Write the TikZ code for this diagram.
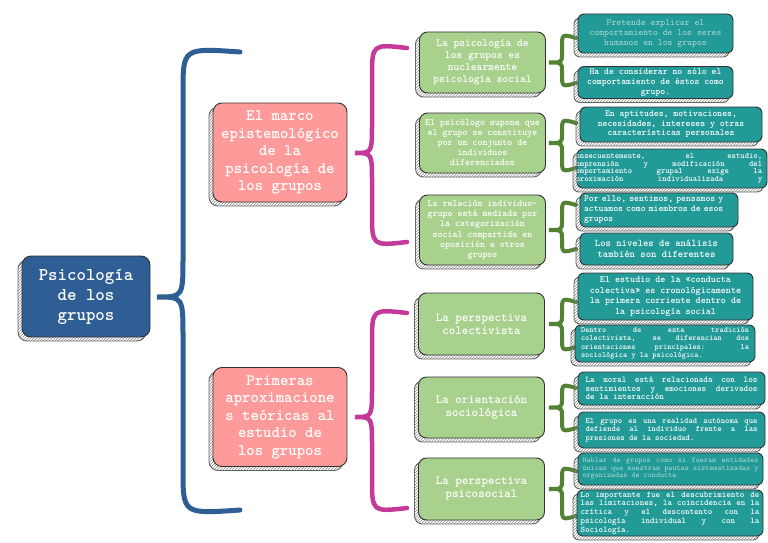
\documentclass[tikz,border=0pt]{standalone}
\usepackage{xcolor}
\usepackage{tikz}
\usetikzlibrary{calc}
\usetikzlibrary{shadows, patterns}
\definecolor{azul}{HTML}{2E5E94}
\definecolor{rosa}{HTML}{FF9A9A}
\definecolor{verde}{HTML}{A9D18E}
\definecolor{turquesa}{HTML}{229A97}
\definecolor{rosaosc}{HTML}{C43A9A}
\definecolor{verdeosc}{HTML}{548235}
\definecolor{gristexto}{HTML}{A8D8D4}
\newcommand{\letra}[2]{\fontsize{#1}{#2}\selectfont\ttfamily\bfseries}
\newcommand{\espacios}{\spaceskip=.525em plus 3em\relax}
\newcommand{\llave}[8]{\draw[#1] (#7,#5) .. controls (#4,{#5-4}) .. (#4,{#5+#8}) -- (#4,{#3-#8}) .. controls (#4,#3) .. (#2,#3) .. controls (#4,#3) .. (#4,{#3+#8}) -- (#4,{#6-#8}) .. controls (#4,{#6+4}) .. (#7,#6);}
\tikzstyle{sombra} = [general shadow={shadow xshift=-4pt, shadow yshift=-4pt, draw=black!60, pattern=north east lines, pattern color=black!45}]
\tikzstyle{caja} = [draw=black!80, line width=0.9pt, text=white, align=center, inner sep=2pt, sombra]
\tikzstyle{raiz} = [caja, fill=azul, rounded corners=9pt, minimum width=128pt, minimum height=81pt]
\tikzstyle{tema} = [caja, fill=rosa, rounded corners=9pt, minimum width=134pt, minimum height=99pt]
\tikzstyle{subtema} = [caja, fill=verde, rounded corners=8pt, minimum width=126pt]
\tikzstyle{idea} = [caja, fill=turquesa, rounded corners=6pt]
\tikzstyle{justo} = [align=justify]
\tikzstyle{trazoazul} = [line width=5pt, azul, line cap=round]
\tikzstyle{trazorosa} = [line width=4.5pt, rosaosc, line cap=round]
\tikzstyle{trazoverde} = [line width=4pt, verdeosc, line cap=round]

\begin{document}
\begin{tikzpicture}[x=1pt, y=-1pt]
	\useasboundingbox (0,0) rectangle (768,543);
	\llave{trazoazul}{157}{297}{183}{52}{510}{240}{40}
	\llave{trazorosa}{355}{153}{372}{48}{242}{407}{30}
	\llave{trazorosa}{355}{417}{372}{313}{508}{407}{30}
	\llave{trazoverde}{549}{62.5}{562}{38}{83}{576}{9}
	\llave{trazoverde}{549}{143}{562}{123}{168}{576}{9}
	\llave{trazoverde}{549}{230}{562}{205}{249}{576}{9}
	\llave{trazoverde}{549}{324}{562}{302}{347}{576}{9}
	\llave{trazoverde}{549}{407.5}{562}{388}{428}{576}{9}
	\llave{trazoverde}{549}{489}{562}{471}{516}{576}{9}

	\node[raiz, font=\letra{18}{20}] (raiz) at (86,296.5) {Psicología\\de los\\grupos};
	\node[tema, font=\letra{16}{17.5}] (marco) at (280,152.5) {El marco\\epistemológico\\de la\\psicología de\\los grupos};
	\node[tema, font=\letra{16}{17.5}] (aprox) at (280,417) {Primeras\\aproximacione\\s teóricas al\\estudio de\\los grupos};

	\node[subtema, minimum height=61pt, font=\letra{11}{12}] (nucleo) at (482.5,62.5) {La psicología de\\los grupos es\\nuclearmente\\psicología social};
	\node[subtema, minimum height=60pt, font=\letra{9.5}{10}] (psicologo) at (482.5,143) {El psicólogo supone que\\el grupo se constituye\\por un conjunto de\\individuos\\diferenciados};
	\node[subtema, minimum height=70pt, font=\letra{9.5}{10.3}] (relacion) at (482.5,230) {La relación individuo-\\grupo está mediada por\\la categorización\\social compartida en\\oposición a otros\\grupos};
	\node[subtema, minimum height=62pt, font=\letra{12.4}{13}] (colectivista) at (481.5,324) {La perspectiva\\colectivista};
	\node[subtema, minimum height=61pt, font=\letra{12.4}{13}] (sociologica) at (481.5,407.5) {La orientación\\sociológica};
	\node[subtema, minimum height=62pt, font=\letra{12.4}{13}] (psicosocial) at (481.5,489) {La perspectiva\\psicosocial};

	\node[idea, minimum width=155pt, minimum height=39pt, font=\letra{9.3}{10}\mdseries, text=gristexto] (explicar) at (655.5,33.5) {Pretende explicar el\\comportamiento de los seres\\humanos en los grupos};
	\node[idea, minimum width=155pt, minimum height=31pt, font=\letra{9.3}{10}] (considerar) at (655.5,82.5) {Ha de considerar no sólo el\\comportamiento de éstos como\\grupo.};
	\node[idea, minimum width=182pt, minimum height=35pt, font=\letra{9.3}{9.5}] (aptitudes) at (671,124.5) {En aptitudes, motivaciones,\\necesidades, intereses y otras\\características personales};
	\node[idea, minimum width=190pt, minimum height=39pt] (estudio) at (672,168.5) {};
	\begin{scope}
		\clip[rounded corners=6pt] (estudio.south west) rectangle (estudio.north east);
		\node[justo, anchor=north west, inner sep=0pt, text width=191pt, text=white, font=\letra{8.3}{7.8}] (estudiotexto) at (571,153) {\espacios Consecuentemente, el estudio,\linebreak comprensión y modificación del\linebreak comportamiento grupal exige la\linebreak aproximación individualizada y\linebreak};
	\end{scope}
	\node[idea, minimum width=158pt, minimum height=34pt, text width=150pt, align=left, font=\letra{9.3}{10}] (sentimos) at (659,210) {Por ello, sentimos, pensamos y\\actuamos como miembros de esos\\grupos};
	\node[idea, minimum width=153pt, minimum height=32pt, font=\letra{10.2}{10.5}] (niveles) at (656.5,249) {Los niveles de análisis\\también son diferentes};
	\node[idea, minimum width=175pt, minimum height=47pt, font=\letra{9.6}{10.5}] (conducta) at (665.5,296.5) {El estudio de la «conducta\\colectiva» es cronológicamente\\la primera corriente dentro de\\la psicología social};
	\node[idea, justo, minimum width=180pt, minimum height=37pt, text width=168pt, font=\letra{8}{8.5}] (tradicion) at (665,343.5) {\espacios Dentro de esta tradición\linebreak colectivista, se diferencian dos\linebreak orientaciones principales: la\linebreak sociológica y la psicológica.};
	\node[idea, justo, minimum width=187pt, minimum height=33pt, text width=172pt, font=\letra{8.8}{8.3}] (moral) at (671.5,388.5) {\espacios La moral está relacionada con los\linebreak sentimientos y emociones derivados\linebreak de la interacción};
	\node[idea, justo, minimum width=187pt, minimum height=36pt, text width=172pt, font=\letra{8.3}{8.7}] (autonoma) at (671.5,430) {\espacios El grupo es una realidad autónoma que\linebreak defiende al individuo frente a las\linebreak presiones de la sociedad.};
	\node[idea, justo, minimum width=185pt, minimum height=32pt, text width=176pt, text=gristexto, font=\letra{7.7}{7.5}\mdseries] (entidades) at (670.5,469) {\espacios Hablar de grupos como si fueran entidades\linebreak únicas que muestran pautas sistematizadas y\linebreak organizadas de conducta};
	\node[idea, justo, minimum width=186pt, minimum height=46pt, text width=179pt, font=\letra{8.6}{8.7}] (limitaciones) at (670,513) {\espacios Lo importante fue el descubrimiento de\linebreak las limitaciones, la coincidencia en la\linebreak crítica y el descontento con la\linebreak psicología individual y con la\linebreak Sociología.};
\end{tikzpicture}
\end{document}
